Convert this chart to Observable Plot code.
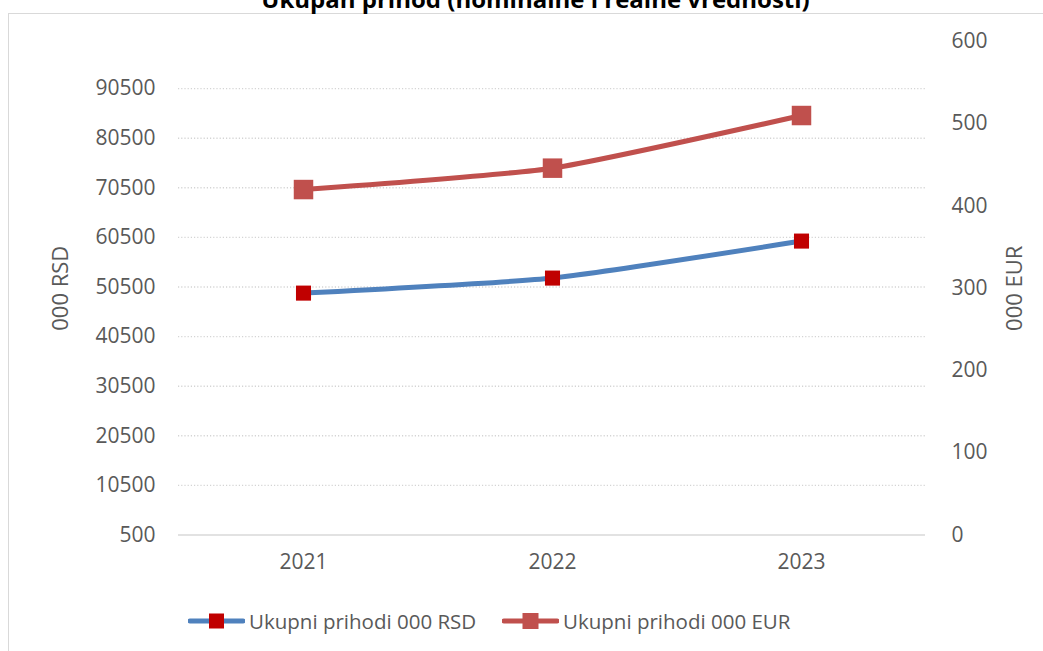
<!DOCTYPE html>
<html><head><meta charset="utf-8">
<script src="https://cdn.jsdelivr.net/npm/d3@7"></script>
<script src="https://cdn.jsdelivr.net/npm/@observablehq/plot@0.6"></script>
<style>
body{margin:0;background:#fff;overflow:hidden;font-family:"Open Sans",sans-serif;}
#wrap{position:relative;width:1043px;height:651px;overflow:hidden;background:#fff;}
#frame{position:absolute;left:8px;top:13px;width:1100px;height:700px;border:1px solid #d9d9d9;box-sizing:border-box;}
#title{position:absolute;left:14px;width:1043px;top:-15px;text-align:center;font-weight:bold;font-size:24px;line-height:28px;color:#000;white-space:nowrap;}
#chart{position:absolute;left:0;top:0;}
.leg{position:absolute;top:608px;height:26px;display:flex;align-items:center;font-size:20.5px;color:#595959;white-space:nowrap;}
.leg svg{margin-right:4px;}
</style></head>
<body><div id="wrap"><div id="frame"></div><div id="title"></div><div id="chart"></div><div id="legend"></div></div>
<script>
const title = "Ukupan prihod (nominalne i realne vrednosti)";
const years = ["2021", "2022", "2023"];
const rsd = [49270, 52300, 59760];
const eur = [420, 446, 510];
const rsdTicks = [500, 10500, 20500, 30500, 40500, 50500, 60500, 70500, 80500, 90500];
const eurTicks = [0, 100, 200, 300, 400, 500, 600];
const rsdDomain = [500, 100000];
const eurDomain = [0, 600];
const seriesNames = ["Ukupni prihodi 000 RSD", "Ukupni prihodi 000 EUR"];
const axisLabels = ["000 RSD", "000 EUR"];

const toLeft = v => rsdDomain[0] + (v - eurDomain[0]) / (eurDomain[1] - eurDomain[0]) * (rsdDomain[1] - rsdDomain[0]);
const fromLeft = v => eurDomain[0] + (v - rsdDomain[0]) / (rsdDomain[1] - rsdDomain[0]) * (eurDomain[1] - eurDomain[0]);

const table = years.map((y, i) => ({year: y, rsd: rsd[i], eur: eur[i], eurL: toLeft(eur[i])}));

const t = document.getElementById("title");
t.textContent = title;

const chart = Plot.plot({
  width: 1043, height: 580,
  marginLeft: 178, marginRight: 118, marginTop: 41, marginBottom: 45.5,
  style: {fontFamily: "Open Sans", fontSize: "21px", color: "#595959", background: "transparent", overflow: "visible"},
  x: {type: "point", domain: years, padding: 0.5},
  y: {domain: rsdDomain},
  marks: [
    Plot.ruleY(rsdTicks.slice(1), {stroke: "#d4d4d4", strokeWidth: 1.4, strokeDasharray: "1.2,2"}),
    Plot.ruleY([rsdDomain[0]], {stroke: "#d9d9d9", strokeWidth: 1.5}),
    Plot.axisY(rsdTicks, {anchor: "left", tickSize: 0, tickPadding: 23, label: null, tickFormat: d => String(d)}),
    Plot.axisY(eurTicks.map(toLeft), {anchor: "right", tickSize: 0, tickPadding: 26, label: null, tickFormat: d => String(Math.round(fromLeft(d)))}),
    Plot.axisX({tickSize: 0, tickPadding: 19, label: null}),
    Plot.text([axisLabels[0]], {frameAnchor: "left", dx: -118, rotate: -90, textAnchor: "middle", text: d => d, fill: "#595959", fontSize: 22}),
    Plot.text([axisLabels[1]], {frameAnchor: "right", dx: 89, rotate: -90, textAnchor: "middle", text: d => d, fill: "#595959", fontSize: 22}),
    Plot.line(table, {x: "year", y: "rsd", stroke: "#4f81bd", strokeWidth: 5, curve: "cardinal", tension: 0.5}),
    Plot.line(table, {x: "year", y: "eurL", stroke: "#c0504d", strokeWidth: 5, curve: "cardinal", tension: 0.5}),
    Plot.dot(table, {x: "year", y: "rsd", symbol: "square", r: 8.5, fill: "#c00000"}),
    Plot.dot(table, {x: "year", y: "eurL", symbol: "square", r: 11, fill: "#c0504d"})
  ]
});
document.getElementById("chart").appendChild(chart);

// legend
const leg = document.getElementById("legend");
const legSpecs = [
  {name: seriesNames[0], line: "#4f81bd", mark: "#c00000", size: 15, left: 188},
  {name: seriesNames[1], line: "#c0504d", mark: "#c0504d", size: 16, left: 502}
];
legSpecs.forEach(s => {
  const d = document.createElement("div");
  d.className = "leg";
  d.style.left = s.left + "px";
  d.innerHTML = `<svg width="57" height="20"><line x1="2" x2="55" y1="10" y2="10" stroke="${s.line}" stroke-width="5" stroke-linecap="round"/><rect x="${28.5 - s.size/2}" y="${10 - s.size/2}" width="${s.size}" height="${s.size}" fill="${s.mark}"/></svg><span>${s.name}</span>`;
  leg.appendChild(d);
});
</script>
</body></html>
